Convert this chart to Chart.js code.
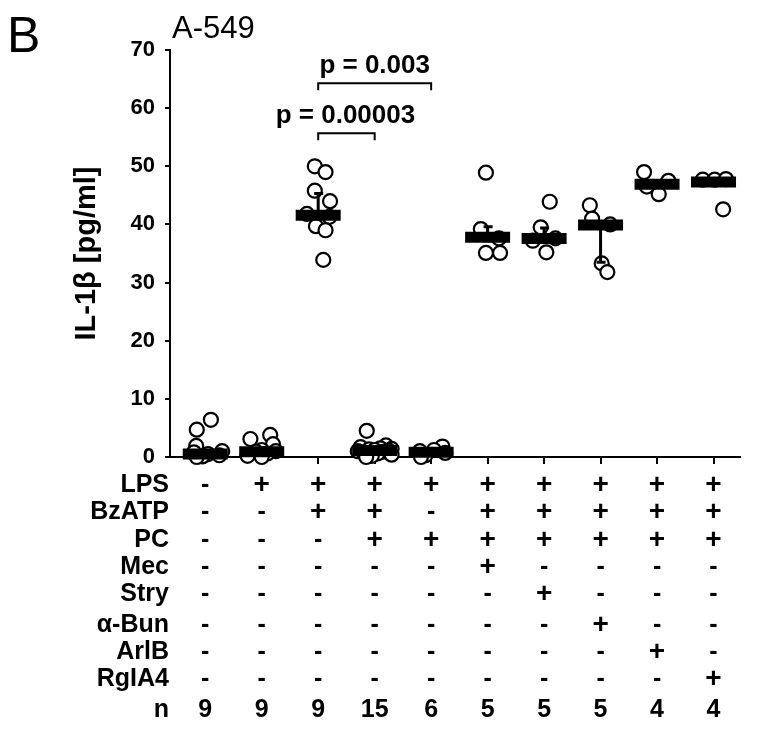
<!DOCTYPE html>
<html>
<head>
<meta charset="utf-8">
<title>IL-1β A-549</title>
<script src="https://cdn.jsdelivr.net/npm/chart.js@4"></script>
<style>
    html, body { margin: 0; padding: 0; background: #fff; }
</style>
</head>
<body>
<canvas id="il1bChart" width="773" height="732"></canvas>
<script>
// Groups (x positions 1..10) and what was added to each
const groups = [1, 2, 3, 4, 5, 6, 7, 8, 9, 10];
const treatments = ['LPS', 'BzATP', 'PC', 'Mec', 'Stry', 'α-Bun', 'ArlB', 'RgIA4'];
const signs = [
    '-+++++++++',
    '--++-+++++',
    '---+++++++',
    '-----+----',
    '------+---',
    '-------+--',
    '--------+-',
    '---------+'
];
const nCounts = [9, 9, 9, 15, 6, 5, 5, 5, 4, 4];

// IL-1β [pg/ml] per well
const responses = [
    [6.4, 4.7, 1.9, 1.0, 0.8, 0.5, 0.3, 0.1, 0.0],
    [3.8, 3.1, 2.2, 1.2, 1.0, 0.9, 0.6, 0.2, 0.0],
    [50.0, 49.0, 45.8, 44.0, 41.8, 41.3, 39.7, 39.0, 33.9],
    [4.5, 2.0, 1.7, 1.5, 1.4, 1.3, 1.2, 1.1, 1.0, 0.9, 0.8, 0.6, 0.4, 0.2, 0.0],
    [1.8, 1.2, 1.0, 0.7, 0.3, 0.0],
    [48.9, 39.2, 37.6, 35.1, 35.1],
    [43.9, 39.5, 37.6, 37.2, 35.2],
    [43.3, 41.0, 40.0, 33.3, 31.8],
    [49.0, 47.5, 46.5, 45.2],
    [47.7, 47.7, 47.8, 42.6]
];
// horizontal scatter of the dots, in group units
const jitter = [
    [0.1, -0.15, -0.16, 0.3, -0.2, 0.05, 0.25, -0.05, -0.15],
    [0.15, -0.2, 0.2, 0.0, 0.25, -0.1, 0.1, -0.25, 0.0],
    [-0.06, 0.13, -0.06, 0.21, -0.2, 0.2, -0.04, 0.13, 0.09],
    [-0.14, 0.2, -0.25, 0.1, 0.3, -0.1, 0.0, 0.25, -0.3, 0.15, -0.2, 0.05, 0.3, -0.05, -0.15],
    [0.2, 0.05, -0.2, 0.25, -0.1, -0.18],
    [-0.03, -0.12, 0.2, -0.03, 0.22],
    [0.1, -0.06, 0.2, -0.2, 0.04],
    [-0.19, -0.15, 0.17, 0.02, 0.12],
    [-0.23, 0.2, -0.18, 0.03],
    [-0.19, 0.02, 0.22, 0.17]
];
const medians = [0.5, 0.9, 41.6, 1.1, 0.8, 37.8, 37.6, 39.9, 46.9, 47.3];
const errLow = [0.3, 0.5, 41.0, 0.9, 0.5, 37.2, 37.0, 33.5, 46.5, 47.0];
const errHigh = [1.0, 1.5, 45.3, 1.4, 1.2, 39.6, 39.4, 40.5, 47.5, 47.7];

// significance brackets: from group, to group, height (pg/ml), label
const brackets = [
    { from: 3, to: 5, y: 64.3, label: 'p = 0.003' },
    { from: 3, to: 4, y: 55.7, label: 'p = 0.00003' }
];

const yTicks = [0, 10, 20, 30, 40, 50, 60, 70];

const FONT = '"Liberation Sans", Arial, sans-serif';
const rowY = [485, 512, 540, 567, 594, 625, 652, 679, 710];

const points = [];
responses.forEach((vals, i) => {
    vals.forEach((v, j) => points.push({ x: groups[i] + jitter[i][j], y: v }));
});

const overlay = {
    id: 'overlay',
    afterDatasetsDraw(chart) {
        const { ctx, scales: { x, y } } = chart;
        ctx.save();
        ctx.strokeStyle = '#000';
        ctx.lineWidth = 3;
        groups.forEach((g, i) => {
            const px = x.getPixelForValue(g);
            const top = y.getPixelForValue(errHigh[i]);
            const bot = y.getPixelForValue(errLow[i]);
            ctx.beginPath();
            ctx.moveTo(px, top);
            ctx.lineTo(px, bot);
            ctx.moveTo(px - 4, top);
            ctx.lineTo(px + 5, top);
            ctx.moveTo(px - 4, bot);
            ctx.lineTo(px + 5, bot);
            ctx.stroke();
        });
        ctx.restore();
    },
    afterDraw(chart) {
        const { ctx, scales: { x, y } } = chart;
        ctx.save();
        ctx.fillStyle = '#000';
        ctx.strokeStyle = '#000';

        // panel letter and cell line
        ctx.textBaseline = 'alphabetic';
        ctx.textAlign = 'left';
        ctx.font = '50px ' + FONT;
        ctx.fillText('B', 7, 52);
        ctx.font = '31px ' + FONT;
        ctx.fillText('A-549', 172, 38);

        // brackets
        ctx.lineWidth = 2;
        brackets.forEach(b => {
            const x1 = x.getPixelForValue(b.from);
            const x2 = x.getPixelForValue(b.to);
            const by = y.getPixelForValue(b.y);
            ctx.beginPath();
            ctx.moveTo(x1, by + 7);
            ctx.lineTo(x1, by);
            ctx.lineTo(x2, by);
            ctx.lineTo(x2, by + 7);
            ctx.stroke();
            ctx.font = 'bold 26px ' + FONT;
            ctx.textAlign = 'center';
            ctx.textBaseline = 'middle';
            ctx.fillText(b.label, (x1 + x2) / 2 + (b.to - b.from === 1 ? -1 : 0), by - 17);
        });

        // treatment table
        ctx.font = 'bold 25px ' + FONT;
        ctx.textBaseline = 'middle';
        treatments.forEach((t, r) => {
            ctx.textAlign = 'right';
            ctx.fillText(t, 169, rowY[r]);
            ctx.textAlign = 'center';
            groups.forEach((g, i) => {
                const s = signs[r][i];
                ctx.font = (s === '+' ? 'bold 28px ' : 'bold 25px ') + FONT;
                ctx.fillText(s, x.getPixelForValue(g), rowY[r]);
            });
            ctx.font = 'bold 25px ' + FONT;
        });
        ctx.textAlign = 'right';
        ctx.fillText('n', 169, rowY[8]);
        ctx.textAlign = 'center';
        groups.forEach((g, i) => ctx.fillText(String(nCounts[i]), x.getPixelForValue(g), rowY[8]));
        ctx.restore();
    }
};

const ctx = document.getElementById('il1bChart').getContext('2d');
const il1bChart = new Chart(ctx, {
    type: 'scatter',
    data: {
        datasets: [
            {
                label: 'median',
                data: groups.map((g, i) => ({ x: g, y: medians[i] })),
                pointStyle: 'line',
                pointRadius: 22.5,
                pointHoverRadius: 22.5,
                pointBorderWidth: 11,
                borderColor: '#000',
                backgroundColor: '#000',
                clip: false
            },
            {
                label: 'wells',
                data: points,
                pointStyle: 'circle',
                pointRadius: 7,
                pointHoverRadius: 7,
                pointBorderWidth: 2.2,
                borderColor: '#000',
                backgroundColor: '#fff',
                clip: false
            }
        ]
    },
    options: {
        responsive: false,
        animation: false,
        events: [],
        layout: { padding: { top: 50, left: 66, right: 13, bottom: 267 } },
        plugins: { legend: { display: false }, tooltip: { enabled: false } },
        scales: {
            x: {
                type: 'linear',
                min: 0.376,
                max: 10.46,
                afterBuildTicks: s => { s.ticks = groups.map(v => ({ value: v })); },
                afterFit: s => { s.height = 8; },
                ticks: { display: false },
                grid: { drawOnChartArea: false, drawTicks: true, tickLength: 7, color: '#000', lineWidth: 2 },
                border: { display: true, color: '#000', width: 2 }
            },
            y: {
                min: 0,
                max: 70,
                afterBuildTicks: s => { s.ticks = yTicks.map(v => ({ value: v })); },
                afterFit: s => { s.width = 170 - 66; },
                ticks: { color: '#000', padding: 10, font: { family: FONT, size: 22, weight: 'bold' } },
                grid: { drawOnChartArea: false, drawTicks: true, tickLength: 5, color: '#000', lineWidth: 2 },
                border: { display: true, color: '#000', width: 2 },
                title: {
                    display: true,
                    text: 'IL-1β [pg/ml]',
                    color: '#000',
                    font: { family: FONT, size: 29, weight: 'bold' }
                }
            }
        }
    },
    plugins: [overlay]
});
</script>
</body>
</html>
